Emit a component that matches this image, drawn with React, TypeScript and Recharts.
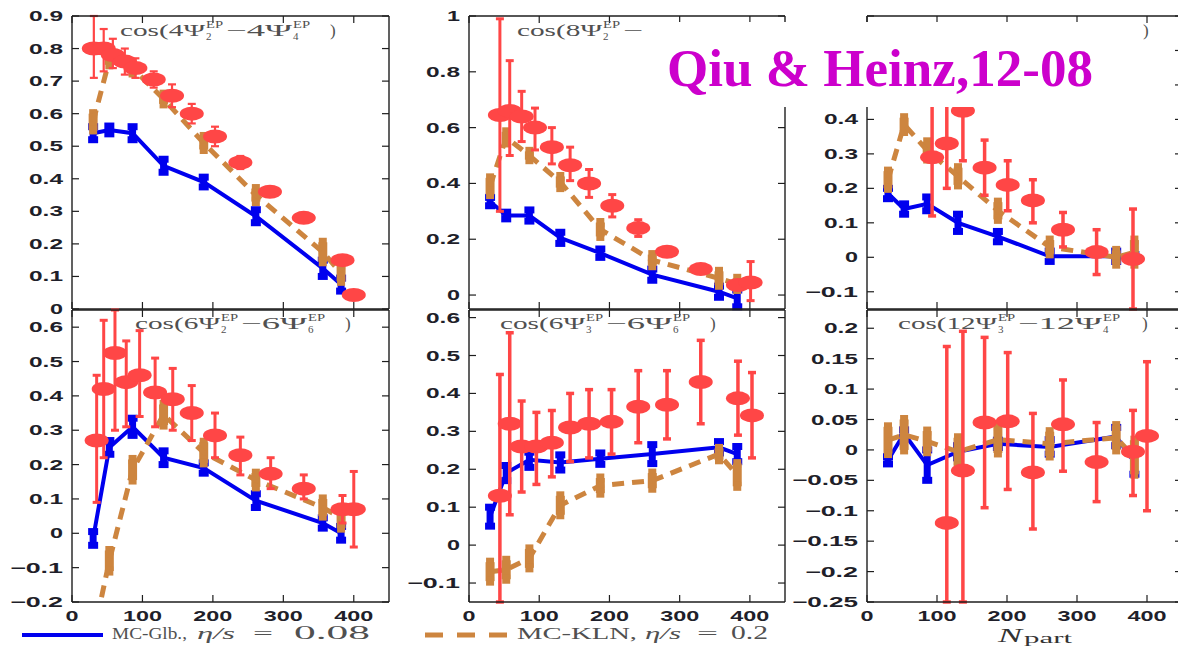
import React from 'react';
import { ComposedChart, Line, Scatter, XAxis, YAxis, ErrorBar } from 'recharts';

const CW = 1200;
const CH = 646;

const BLUE = '#0000ee';
const ORANGE = '#cd853f';
const RED = '#ff4646';
const AXIS = '#1e1e1e';
const TICKTXT = '#1f1f2a';
const NOTE = '#505050';

// ---------- shared x values ----------
const modelX = [30, 53, 86, 130, 187, 261, 356, 382];
const xTicks = [0, 100, 200, 300, 400];

// ---------- panel 1 : cos(4Ψ2 − 4Ψ4) ----------
const p1Ticks = [0, 0.1, 0.2, 0.3, 0.4, 0.5, 0.6, 0.7, 0.8, 0.9];
const p1BlueY = [0.54, 0.55, 0.54, 0.44, 0.39, 0.285, 0.125, 0.075];
const p1BlueE = [0.02, 0.012, 0.02, 0.02, 0.015, 0.02, 0.025, 0.02];
const p1OrangeY = [0.575, 0.765, 0.74, 0.645, 0.51, 0.35, 0.175, 0.11];
const p1OrangeE = [0.025, 0.015, 0.015, 0.015, 0.02, 0.02, 0.03, 0.025];
const p1RedX = [31, 45, 58, 75, 90, 116, 142, 170, 203, 239, 281, 329, 384, 400];
const p1RedY = [0.8, 0.8, 0.78, 0.76, 0.74, 0.705, 0.655, 0.6, 0.53, 0.45, 0.36, 0.28, 0.15, 0.043];
const p1RedLo = [0.71, 0.73, 0.74, 0.72, 0.71, 0.68, 0.62, 0.57, 0.5, 0.43, 0.35, 0.27, 0.14, 0.035];
const p1RedHi = [0.9, 0.86, 0.83, 0.8, 0.77, 0.73, 0.69, 0.63, 0.56, 0.47, 0.37, 0.29, 0.16, 0.05];

// ---------- panel 2 : cos(8Ψ2 − 8Ψ4) ----------
const p2Ticks = [0, 0.2, 0.4, 0.6, 0.8, 1];
const p2BlueY = [0.335, 0.285, 0.285, 0.205, 0.15, 0.073, 0.012, -0.012];
const p2BlueE = [0.015, 0.012, 0.02, 0.02, 0.015, 0.02, 0.02, 0.03];
const p2OrangeY = [0.39, 0.565, 0.5, 0.405, 0.235, 0.125, 0.06, 0.04];
const p2OrangeE = [0.03, 0.02, 0.015, 0.02, 0.025, 0.02, 0.025, 0.02];
const p2RedX = [44, 58, 75, 94, 118, 144, 171, 204, 241, 282, 330, 383, 401];
const p2RedY = [0.645, 0.66, 0.64, 0.6, 0.53, 0.465, 0.4, 0.32, 0.24, 0.155, 0.093, 0.036, 0.045];
const p2RedLo = [0.3, 0.5, 0.55, 0.52, 0.47, 0.41, 0.35, 0.28, 0.21, 0.14, 0.08, 0.02, -0.02];
const p2RedHi = [0.99, 0.84, 0.73, 0.67, 0.6, 0.53, 0.45, 0.36, 0.27, 0.17, 0.1, 0.05, 0.12];

// ---------- panel 3 : cos(12Ψ2 − 12Ψ4) ----------
const p3Ticks = [-0.1, 0, 0.1, 0.2, 0.3, 0.4, 0.5, 0.6, 0.7];
const p3BlueY = [0.185, 0.14, 0.155, 0.1, 0.06, 0.003, 0.003, -0.002];
const p3BlueE = [0.015, 0.015, 0.02, 0.025, 0.015, 0.015, 0.015, 0.01];
const p3OrangeY = [0.225, 0.385, 0.31, 0.235, 0.135, 0.03, 0.0, 0.015];
const p3OrangeE = [0.025, 0.02, 0.025, 0.025, 0.025, 0.02, 0.02, 0.035];
const p3RedX = [93, 114, 137, 168, 201, 237, 280, 328, 380];
const p3RedY = [0.29, 0.33, 0.425, 0.26, 0.21, 0.165, 0.08, 0.015, -0.005];
const p3RedLo = [0.12, 0.2, 0.28, 0.18, 0.135, 0.1, 0.03, -0.05, -0.15];
const p3RedHi = [0.6, 0.6, 0.6, 0.34, 0.28, 0.225, 0.13, 0.08, 0.14];

// ---------- panel 4 : cos(6Ψ2 − 6Ψ6) ----------
const p4Ticks = [-0.2, -0.1, 0, 0.1, 0.2, 0.3, 0.4, 0.5, 0.6];
const p4BlueY = [-0.015, 0.25, 0.31, 0.22, 0.19, 0.095, 0.03, 0.0];
const p4BlueE = [0.02, 0.02, 0.025, 0.02, 0.015, 0.02, 0.015, 0.02];
const p4OrangeY = [-0.3, -0.08, 0.185, 0.345, 0.235, 0.155, 0.075, 0.045];
const p4OrangeE = [null, 0.03, 0.03, 0.03, 0.03, 0.02, 0.025, 0.03];
const p4RedX = [35, 45, 61, 77, 96, 118, 143, 170, 203, 239, 282, 329, 384, 400];
const p4RedY = [0.27, 0.42, 0.525, 0.44, 0.46, 0.41, 0.39, 0.35, 0.285, 0.227, 0.173, 0.13, 0.07, 0.07];
const p4RedLo = [0.09, 0.22, 0.3, 0.31, 0.34, 0.31, 0.3, 0.27, 0.22, 0.17, 0.13, 0.1, 0.03, -0.04];
const p4RedHi = [0.46, 0.62, 0.65, 0.56, 0.59, 0.51, 0.48, 0.43, 0.35, 0.28, 0.22, 0.17, 0.11, 0.18];

// ---------- panel 5 : cos(6Ψ3 − 6Ψ6) ----------
const p5Ticks = [-0.1, 0, 0.1, 0.2, 0.3, 0.4, 0.5, 0.6];
const p5BlueY = [0.075, 0.19, 0.225, 0.218, 0.228, 0.24, 0.258, 0.24];
const p5BlueE = [0.025, 0.02, 0.02, 0.02, 0.015, 0.025, 0.015, 0.02];
const p5OrangeY = [-0.07, -0.065, -0.035, 0.105, 0.157, 0.17, 0.24, 0.185];
const p5OrangeE = [0.025, 0.025, 0.025, 0.025, 0.02, 0.02, 0.015, 0.03];
const p5RedX = [44, 58, 75, 96, 118, 144, 171, 203, 241, 282, 330, 383, 403];
const p5RedY = [0.13, 0.32, 0.26, 0.26, 0.27, 0.31, 0.32, 0.325, 0.365, 0.37, 0.43, 0.387, 0.342];
const p5RedLo = [-0.15, 0.08, 0.14, 0.16, 0.18, 0.22, 0.23, 0.24, 0.27, 0.28, 0.32, 0.29, 0.23];
const p5RedHi = [0.45, 0.56, 0.38, 0.35, 0.355, 0.4, 0.41, 0.41, 0.46, 0.46, 0.54, 0.485, 0.455];

// ---------- panel 6 : cos(12Ψ3 − 12Ψ4) ----------
const p6Ticks = [-0.25, -0.2, -0.15, -0.1, -0.05, 0, 0.05, 0.1, 0.15, 0.2];
const p6BlueY = [-0.017, 0.027, -0.025, -0.003, 0.01, 0.005, 0.022, -0.02];
const p6BlueE = [0.006, 0.006, 0.025, 0.01, 0.006, 0.012, 0.015, 0.02];
const p6OrangeY = [0.016, 0.025, 0.014, -0.003, 0.017, 0.01, 0.02, -0.012];
const p6OrangeE = [0.022, 0.025, 0.017, 0.023, 0.022, 0.02, 0.02, 0.028];
const p6RedX = [114, 137, 168, 201, 237, 280, 328, 380, 400];
const p6RedY = [-0.12, -0.034, 0.045, 0.047, -0.037, 0.042, -0.02, -0.003, 0.023];
const p6RedLo = [-0.25, -0.25, -0.095, -0.065, -0.13, -0.035, -0.085, -0.075, -0.1];
const p6RedHi = [0.17, 0.195, 0.185, 0.16, 0.06, 0.115, 0.045, 0.065, 0.145];

// ---------- helpers ----------
type Pt = { x: number; y: number; e: number | number[] | null };
const mkModel = (ys: number[], es: (number | null)[]): Pt[] =>
  modelX.map((x, i) => ({ x, y: ys[i], e: es[i] }));
const mkRed = (xs: number[], ys: number[], lo: number[], hi: number[]): Pt[] =>
  xs.map((x, i) => ({ x, y: ys[i], e: [ys[i] - lo[i], hi[i] - ys[i]] }));

const fmt = (v: number) => {
  if (Math.abs(v) < 1e-9) return '0';
  const s = String(parseFloat(Math.abs(v).toFixed(2)));
  return (v < 0 ? '\u2212' : '') + s;
};
const labelW = (s: string) =>
  s.split('').reduce((a, c) => a + (c === '.' ? 8 : c === '\u2212' ? 19 : 13), 0);

const tickFont = {
  fontFamily: '"Liberation Sans", Arial, sans-serif',
  fontWeight: 700,
  fontSize: 14,
};

const leftTick = (labelMax: number) => (p: any) => {
  const v = p.payload.value;
  const s = fmt(v);
  const w = labelW(s);
  return (
    <g>
      <line x1={p.x} x2={p.x + 7} y1={p.y} y2={p.y} stroke={AXIS} strokeWidth={1.2} />
      {v <= labelMax + 1e-9 && (
        <text x={p.x - 9 - w} y={p.y + 5} textLength={w} lengthAdjust="spacingAndGlyphs" {...tickFont} fill={TICKTXT}>
          {s}
        </text>
      )}
    </g>
  );
};
const rightTick = (p: any) => (
  <line x1={p.x - 7} x2={p.x} y1={p.y} y2={p.y} stroke={AXIS} strokeWidth={1.2} />
);
const topTick = (p: any) => (
  <line x1={p.x} x2={p.x} y1={p.y} y2={p.y + 7} stroke={AXIS} strokeWidth={1.2} />
);
const bottomTick = (showLabel: boolean) => (p: any) => {
  const s = fmt(p.payload.value);
  const w = labelW(s);
  return (
    <g>
      <line x1={p.x} x2={p.x} y1={p.y - 7} y2={p.y} stroke={AXIS} strokeWidth={1.2} />
      {showLabel && (
        <text x={p.x - w / 2} y={p.y + 19} textLength={w} lengthAdjust="spacingAndGlyphs" {...tickFont} fill={TICKTXT}>
          {s}
        </text>
      )}
    </g>
  );
};

const ellipseShape = (p: any) => <ellipse cx={p.cx} cy={p.cy} rx={12} ry={7} fill={RED} />;

type PanelCfg = {
  L: number; T: number; R: number; B: number;
  yDomain: [number, number];
  yTicks: number[];
  labelMax: number;
  xLabels: boolean;
  blue: Pt[]; orange: Pt[]; red: Pt[];
  redStroke: number;
};

const TOP_T = 16, TOP_B = 309, BOT_T = 310, BOT_B = 602;
const COLS = [72, 469, 867];
const PWS = [317, 316, 315];

const panels: PanelCfg[] = [
  { L: COLS[0], T: TOP_T, R: COLS[0] + PWS[0], B: TOP_B, yDomain: [0, 0.9], yTicks: p1Ticks, labelMax: 1, xLabels: false,
    blue: mkModel(p1BlueY, p1BlueE), orange: mkModel(p1OrangeY, p1OrangeE), red: mkRed(p1RedX, p1RedY, p1RedLo, p1RedHi), redStroke: 2.2 },
  { L: COLS[1], T: TOP_T, R: COLS[1] + PWS[1], B: TOP_B, yDomain: [-0.05, 1], yTicks: p2Ticks, labelMax: 1, xLabels: false,
    blue: mkModel(p2BlueY, p2BlueE), orange: mkModel(p2OrangeY, p2OrangeE), red: mkRed(p2RedX, p2RedY, p2RedLo, p2RedHi), redStroke: 3 },
  { L: COLS[2], T: TOP_T, R: COLS[2] + PWS[2], B: TOP_B, yDomain: [-0.15, 0.7], yTicks: p3Ticks, labelMax: 0.4, xLabels: false,
    blue: mkModel(p3BlueY, p3BlueE), orange: mkModel(p3OrangeY, p3OrangeE), red: mkRed(p3RedX, p3RedY, p3RedLo, p3RedHi), redStroke: 3.5 },
  { L: COLS[0], T: BOT_T, R: COLS[0] + PWS[0], B: BOT_B, yDomain: [-0.2, 0.65], yTicks: p4Ticks, labelMax: 1, xLabels: true,
    blue: mkModel(p4BlueY, p4BlueE), orange: mkModel(p4OrangeY, p4OrangeE), red: mkRed(p4RedX, p4RedY, p4RedLo, p4RedHi), redStroke: 3 },
  { L: COLS[1], T: BOT_T, R: COLS[1] + PWS[1], B: BOT_B, yDomain: [-0.15, 0.62], yTicks: p5Ticks, labelMax: 1, xLabels: true,
    blue: mkModel(p5BlueY, p5BlueE), orange: mkModel(p5OrangeY, p5OrangeE), red: mkRed(p5RedX, p5RedY, p5RedLo, p5RedHi), redStroke: 3.5 },
  { L: COLS[2], T: BOT_T, R: COLS[2] + PWS[2], B: BOT_B, yDomain: [-0.25, 0.23], yTicks: p6Ticks, labelMax: 1, xLabels: true,
    blue: mkModel(p6BlueY, p6BlueE), orange: mkModel(p6OrangeY, p6OrangeE), red: mkRed(p6RedX, p6RedY, p6RedLo, p6RedHi), redStroke: 3.5 },
];

const axisLine = { stroke: AXIS, strokeWidth: 1.4 };

function PanelChart({ c }: { c: PanelCfg }) {
  return (
    <div style={{ position: 'absolute', left: 0, top: 0 }}>
      <ComposedChart
        width={CW}
        height={CH}
        margin={{ left: c.L - 10, top: c.T - 10, right: CW - c.R - 10, bottom: CH - c.B - 10 }}
      >
        <XAxis xAxisId="b" dataKey="x" type="number" domain={[0, 450]} ticks={xTicks} allowDataOverflow
          orientation="bottom" height={10} tickSize={0} tickMargin={0} interval={0}
          axisLine={axisLine} tickLine={false} tick={bottomTick(c.xLabels)} />
        <XAxis xAxisId="t" dataKey="x" type="number" domain={[0, 450]} ticks={xTicks} allowDataOverflow
          orientation="top" height={10} tickSize={0} tickMargin={0} interval={0}
          axisLine={axisLine} tickLine={false} tick={topTick} />
        <YAxis yAxisId="l" type="number" domain={c.yDomain} ticks={c.yTicks} allowDataOverflow
          orientation="left" width={10} tickSize={0} tickMargin={0} interval={0}
          axisLine={axisLine} tickLine={false} tick={leftTick(c.labelMax)} />
        <YAxis yAxisId="r" type="number" domain={c.yDomain} ticks={c.yTicks} allowDataOverflow
          orientation="right" width={10} tickSize={0} tickMargin={0} interval={0}
          axisLine={axisLine} tickLine={false} tick={rightTick} />
        <Line xAxisId="b" yAxisId="l" data={c.blue} dataKey="y" stroke={BLUE} strokeWidth={4}
          dot={false} activeDot={false} isAnimationActive={false}>
          <ErrorBar dataKey="e" direction="y" width={5} stroke={BLUE} strokeWidth={7} isAnimationActive={false} />
        </Line>
        <Line xAxisId="b" yAxisId="l" data={c.orange} dataKey="y" stroke={ORANGE} strokeWidth={5}
          strokeDasharray="12 8" dot={false} activeDot={false} isAnimationActive={false}>
          <ErrorBar dataKey="e" direction="y" width={4} stroke={ORANGE} strokeWidth={9} isAnimationActive={false} />
        </Line>
        <Scatter xAxisId="b" yAxisId="l" data={c.red} dataKey="y" fill={RED} shape={ellipseShape}
          isAnimationActive={false}>
          <ErrorBar dataKey="e" direction="y" width={4} stroke={RED} strokeWidth={c.redStroke} isAnimationActive={false} />
        </Scatter>
      </ComposedChart>
    </div>
  );
}

const serif = '"Liberation Serif", "Times New Roman", serif';

function Ann({ x, y, n, a, b, part = 'all' }: { x: number; y: number; n: string; a: string; b: string; part?: 'all' | 'head' | 'tail' }) {
  const dbl = n.length > 1;
  const L1 = dbl ? 99 : 85;
  const L2 = dbl ? 84 : 66;
  const close = dbl ? 244 : 210;
  const s1 = x + L1 + 1;
  const m2 = x + L1 + 21;
  const s2 = m2 + L2 + 1;
  const f = { fontFamily: serif, fill: NOTE };
  const showHead = part !== 'tail';
  const showMid = part === 'all';
  const showTail = part !== 'head';
  return (
    <g>
      {showHead && (
        <>
          <text x={x} y={y} fontSize={17} textLength={L1} lengthAdjust="spacingAndGlyphs" {...f}>{`cos(${n}\u03A8`}</text>
          <text x={s1} y={y - 8} fontSize={10} textLength={17} lengthAdjust="spacingAndGlyphs" {...f}>EP</text>
          <text x={s1} y={y + 4} fontSize={11} {...f}>{a}</text>
        </>
      )}
      {part === 'head' && (
        <text x={m2} y={y} fontSize={17} textLength={20} lengthAdjust="spacingAndGlyphs" {...f}>{'\u2212'}</text>
      )}
      {showMid && (
        <>
          <text x={m2} y={y} fontSize={17} textLength={L2} lengthAdjust="spacingAndGlyphs" {...f}>{`\u2212${n}\u03A8`}</text>
          <text x={s2} y={y - 8} fontSize={10} textLength={17} lengthAdjust="spacingAndGlyphs" {...f}>EP</text>
          <text x={s2} y={y + 4} fontSize={11} {...f}>{b}</text>
        </>
      )}
      {showTail && <text x={x + close} y={y} fontSize={17} {...f}>)</text>}
    </g>
  );
}

function Overlay() {
  const lt = { fontFamily: serif, fill: NOTE, fontSize: 17 };
  return (
    <svg width={1178} height={646} style={{ position: 'absolute', left: 0, top: 0 }}>
      <Ann x={120} y={36} n="4" a="2" b="4" />
      <Ann x={517} y={36} n="8" a="2" b="4" part="head" />
      <Ann x={899} y={36} n="12" a="2" b="4" part="tail" />
      <Ann x={135} y={329} n="6" a="2" b="6" />
      <Ann x={500} y={329} n="6" a="3" b="6" />
      <Ann x={898} y={329} n="12" a="3" b="4" />

      <rect x={648} y={22} width={492} height={85} fill="#ffffff" />
      <text x={667} y={86} fontFamily={serif} fontWeight={700} fontSize={53} fill="#cc00cc"
        textLength={426} lengthAdjust="spacingAndGlyphs">Qiu &amp; Heinz,12-08</text>

      <line x1={22} x2={103} y1={635} y2={635} stroke={BLUE} strokeWidth={4} />
      <text x={112} y={639} {...lt} textLength={75} lengthAdjust="spacingAndGlyphs">MC-Glb.,</text>
      <text x={197} y={639} {...lt} fontStyle="italic" textLength={38} lengthAdjust="spacingAndGlyphs">{'\u03B7/s'}</text>
      <text x={253} y={639} {...lt} textLength={20} lengthAdjust="spacingAndGlyphs">=</text>
      <text x={294} y={639} {...lt} fontSize={18} textLength={76} lengthAdjust="spacingAndGlyphs">0.08</text>

      <line x1={425} x2={508} y1={635} y2={635} stroke={ORANGE} strokeWidth={5} strokeDasharray="18 14" />
      <text x={517} y={639} {...lt} textLength={120} lengthAdjust="spacingAndGlyphs">MC-KLN,</text>
      <text x={645} y={639} {...lt} fontStyle="italic" textLength={36} lengthAdjust="spacingAndGlyphs">{'\u03B7/s'}</text>
      <text x={697} y={639} {...lt} textLength={21} lengthAdjust="spacingAndGlyphs">=</text>
      <text x={731} y={639} {...lt} fontSize={18} textLength={37} lengthAdjust="spacingAndGlyphs">0.2</text>

      <text x={998} y={641.5} fontFamily={serif} fontStyle="italic" fontSize={19} fill="#333"
        textLength={24} lengthAdjust="spacingAndGlyphs">N</text>
      <text x={1024} y={642.5} fontFamily={serif} fontSize={14} fill="#333" textLength={48} lengthAdjust="spacingAndGlyphs">part</text>
    </svg>
  );
}

export default function App() {
  return (
    <div style={{ position: 'absolute', left: 0, top: 0, width: 1178, height: 646, overflow: 'hidden', background: '#ffffff' }}>
      {panels.map((c, i) => (
        <PanelChart key={i} c={c} />
      ))}
      <Overlay />
    </div>
  );
}
